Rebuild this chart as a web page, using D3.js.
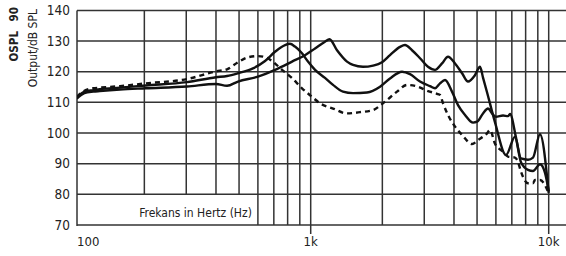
<!DOCTYPE html>
<html><head><meta charset="utf-8">
<script src="https://cdn.jsdelivr.net/npm/d3@7/dist/d3.min.js"></script>
<style>
html,body{margin:0;padding:0;background:#fff;}
svg{display:block;}
text{font-family:"DejaVu Sans Condensed","DejaVu Sans",sans-serif;font-stretch:condensed;fill:#222;}
</style></head>
<body><svg id="c" width="566" height="256"></svg>
<script>
// ---- data ----
const yTicks = [70, 80, 90, 100, 110, 120, 130, 140];
const xTickLabels = ["100", "1k", "10k"];
const xTickFreqs = [100, 1000, 10000];
const gridFreqs = [200,300,400,500,600,700,800,900,1000,2000,3000,4000,5000,6000,7000,8000,9000,10000];
const shortGridFreqs = [200,300,400,500];

// solid curve with peak ~1.2 kHz
const freqA = [104,112,122,130,158,203,302,400,445,495,600,708,835,946,1043,1148,1200,1290,1421,1506,1658,1828,1994,2154,2373,2490,2665,2879,3110,3329,3562,3775,4040,4324,4582,4903,5145,5300,5506,5949,6617,7218,7647,8185,8590,9192,10000];
const splA  = [111.2,113,113.5,113.7,114.2,114.6,115.2,116,115.4,116.8,118.4,120.6,123.3,125.4,127.6,129.8,130.6,127,123.3,122.2,121.6,122,123.1,125.4,128.1,128.7,127,124.4,121.6,120.6,122.7,124.9,122.7,119.5,116.8,118.9,121.6,118,113.3,103.5,92.8,98.8,91.7,91.3,92,99.6,80.5];

// solid curve with peak ~820 Hz
const freqB = [104,112,122,130,158,203,302,400,445,495,572,643,708,780,818,859,919,974,1043,1148,1241,1367,1506,1724,1956,2154,2419,2614,2879,3171,3329,3494,3667,3924,4159,4451,4809,5000,5297,5559,5779,6000,6427,6745,6877,7288,7647,8185,8590,9192,9650,10000];
const splB  = [111.5,113.5,114,114.3,114.8,115.5,116.6,118.2,118.6,119.5,121.1,123.5,126.5,128.7,129.1,128.2,126,123.3,120.6,118,115.7,113.5,113,113.2,115.1,117.8,120,119.2,116.8,115.3,114.6,116.2,117.3,113.5,109.1,105.9,103.4,103.7,106.4,108,106.4,105.3,105.7,105.5,106.2,98.5,90.5,88,87.6,89.8,87,81];

// dashed curve with peak ~600 Hz
const freqC = [104,112,122,130,158,203,302,400,445,495,545,600,643,688,758,835,919,1013,1094,1241,1421,1611,1828,2013,2305,2539,2824,3110,3394,3494,3597,3775,4040,4324,4763,5047,5506,5668,5949,6427,6745,7218,7430,7647,8185,8590,8758,9192,9647,10000];
const splC  = [111.8,113.8,114.6,114.8,115.3,116.2,117.6,120.1,120.8,123.1,124.7,125.1,124.8,123.5,120.6,117.9,114.6,111.8,109.7,108,106.4,106.8,107.5,109.7,113.5,115.7,115.1,113.7,112.8,112.4,109.7,105.9,102.1,99.4,96.4,97.7,99.9,101,96.5,93.9,92.3,92,90.6,87.4,83.6,83.6,84.7,84.7,83,80.3];

// ---- layout ----
const svg = d3.select("#c");
const W = 566;
const plotLeft = 77;
const x = d3.scaleLog().domain([100, 10000]).range([72.7, 548.7]);
const y = d3.scaleLinear().domain([70, 140]).range([225, 10.4]);
const gridColor = "#333";

svg.append("defs").append("clipPath").attr("id","clip")
  .append("rect").attr("x", plotLeft).attr("y", 0).attr("width", W - plotLeft).attr("height", 256);

// horizontal grid
svg.append("g").selectAll("line").data(yTicks).join("line")
  .attr("x1", plotLeft).attr("x2", W)
  .attr("y1", d => y(d)).attr("y2", d => y(d))
  .attr("stroke", gridColor).attr("stroke-width", 1.5);

// left border
svg.append("line").attr("x1", plotLeft).attr("x2", plotLeft)
  .attr("y1", y(140)).attr("y2", y(70) + 1)
  .attr("stroke", gridColor).attr("stroke-width", 1.5);

// vertical grid
svg.append("g").selectAll("line").data(gridFreqs).join("line")
  .attr("x1", d => x(d)).attr("x2", d => x(d))
  .attr("y1", y(140))
  .attr("y2", d => shortGridFreqs.includes(d) ? y(80) : (d === 1000 || d === 10000 ? y(70) + 9 : y(70)))
  .attr("stroke", gridColor).attr("stroke-width", 1.5);

// curves
const line = d3.line().x(d => x(d[0])).y(d => y(d[1])).curve(d3.curveMonotoneX);
const curves = [
  {f: freqA, v: splA, dash: null},
  {f: freqB, v: splB, dash: null},
  {f: freqC, v: splC, dash: "5,4"}
];
const cg = svg.append("g").attr("clip-path", "url(#clip)");
curves.forEach(c => {
  cg.append("path").datum(c.f.map((f, i) => [f, c.v[i]]))
    .attr("d", line).attr("fill", "none")
    .attr("stroke", "#111").attr("stroke-width", 2.4)
    .attr("stroke-linejoin", "round")
    .attr("stroke-dasharray", c.dash);
});

// y tick labels
svg.append("g").selectAll("text").data(yTicks).join("text")
  .attr("x", 70).attr("y", d => y(d) + 4.5)
  .attr("text-anchor", "end").attr("font-size", 13.5)
  .text(d => d);

// x tick labels
svg.append("g").selectAll("text").data(xTickFreqs).join("text")
  .attr("x", (d, i) => i === 0 ? plotLeft : x(d))
  .attr("y", 246)
  .attr("text-anchor", (d, i) => i === 0 ? "start" : "middle")
  .attr("font-size", 13)
  .text((d, i) => xTickLabels[i]);

// axis titles
svg.append("text").attr("transform", "translate(195.5,217)")
  .attr("text-anchor", "middle").attr("font-size", 12)
  .text("Frekans in Hertz (Hz)");

svg.append("text").attr("transform", "translate(17.5,7) rotate(-90)")
  .attr("text-anchor", "end").attr("font-size", 11.5).attr("font-weight", "bold")
  .attr("word-spacing", 6)
  .text("OSPL 90");

svg.append("text").attr("transform", "translate(37,9) rotate(-90)")
  .attr("text-anchor", "end").attr("font-size", 12)
  .text("Output/dB SPL");
</script></body></html>
